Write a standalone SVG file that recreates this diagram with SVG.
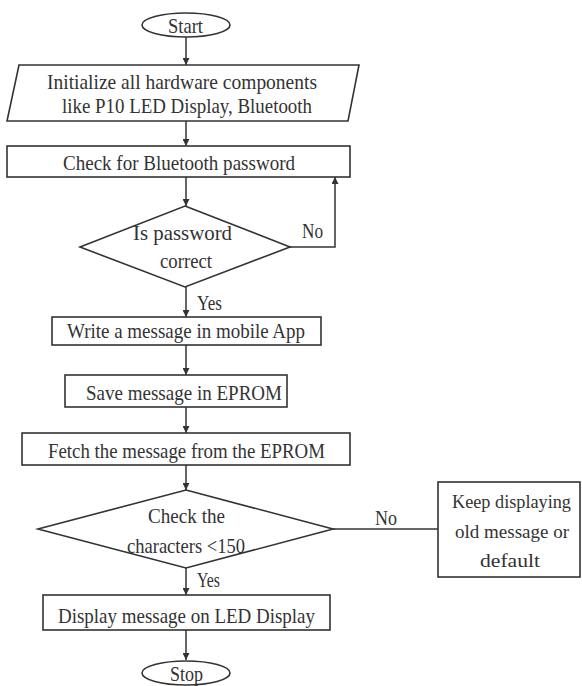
<svg xmlns="http://www.w3.org/2000/svg" width="582" height="686" viewBox="0 0 582 686">
<defs>
<marker id="ah" viewBox="0 0 10 10" refX="10" refY="5" markerWidth="7" markerHeight="7" markerUnits="userSpaceOnUse" orient="auto">
<path d="M0,0 L10,5 L0,10 z" fill="#333"/>
</marker>
<style>
.s{fill:#fff;stroke:#333;stroke-width:1.6}
.c{fill:none;stroke:#333;stroke-width:1.5}
.a{marker-end:url(#ah)}
text{font-family:"Liberation Serif","Times New Roman",serif;font-size:21px;fill:#333}
.k{font-size:19px}
</style>
</defs>
<rect width="582" height="686" fill="#fff"/>
<g id="connectors">
<line class="c a" x1="186" y1="37" x2="186" y2="65"/>
<line class="c a" x1="186" y1="121" x2="186" y2="146"/>
<line class="c a" x1="186" y1="177" x2="186" y2="206"/>
<polyline class="c a" points="290,247 335,247 335,177"/>
<text x="302" y="238" textLength="21" lengthAdjust="spacingAndGlyphs">No</text>
<line class="c a" x1="186" y1="287" x2="186" y2="317"/>
<text x="197" y="310" textLength="25" lengthAdjust="spacingAndGlyphs">Yes</text>
<line class="c a" x1="186" y1="345" x2="186" y2="375"/>
<line class="c a" x1="186" y1="407" x2="186" y2="433"/>
<line class="c a" x1="186" y1="465" x2="186" y2="490"/>
<line class="c" x1="333" y1="529" x2="438" y2="529"/>
<text x="375" y="525" textLength="22" lengthAdjust="spacingAndGlyphs">No</text>
<line class="c a" x1="186" y1="568" x2="186" y2="595"/>
<text x="197" y="587" textLength="23" lengthAdjust="spacingAndGlyphs">Yes</text>
<line class="c a" x1="186" y1="630" x2="186" y2="660"/>
</g>
<g id="start">
<ellipse class="s" cx="186" cy="25" rx="44" ry="12"/>
<text x="168" y="33" textLength="35" lengthAdjust="spacingAndGlyphs">Start</text>
</g>
<g id="init">
<polygon class="s" points="19,65 359,65 348,121 7,121"/>
<text x="47" y="89" textLength="270" lengthAdjust="spacingAndGlyphs">Initialize all hardware components</text>
<text x="62" y="113" textLength="250" lengthAdjust="spacingAndGlyphs">like P10 LED Display, Bluetooth</text>
</g>
<g id="check-password">
<rect class="s" x="7" y="146" width="343" height="31"/>
<text x="63" y="170" textLength="232" lengthAdjust="spacingAndGlyphs">Check for Bluetooth password</text>
</g>
<g id="is-password-correct">
<polygon class="s" points="185,206 290,247 185,287 80,247"/>
<text x="133" y="240" textLength="99" lengthAdjust="spacingAndGlyphs">Is password</text>
<text x="160" y="268" textLength="52" lengthAdjust="spacingAndGlyphs">correct</text>
</g>
<g id="write-message">
<rect class="s" x="52" y="317" width="269" height="28"/>
<text x="67" y="338" textLength="238" lengthAdjust="spacingAndGlyphs">Write a message in mobile App</text>
</g>
<g id="save-message">
<rect class="s" x="65" y="375" width="222" height="32"/>
<text x="86" y="400" textLength="196" lengthAdjust="spacingAndGlyphs">Save message in EPROM</text>
</g>
<g id="fetch-message">
<rect class="s" x="22" y="433" width="328" height="32"/>
<text x="48" y="458" textLength="277" lengthAdjust="spacingAndGlyphs">Fetch the message from the EPROM</text>
</g>
<g id="check-characters">
<polygon class="s" points="186,490 333,529 186,568 38,529"/>
<text x="148" y="523" textLength="77" lengthAdjust="spacingAndGlyphs">Check the</text>
<text x="127" y="553" textLength="118" lengthAdjust="spacingAndGlyphs">characters &lt;150</text>
</g>
<g id="keep-displaying">
<rect class="s" x="438" y="482" width="142" height="95"/>
<text class="k" x="452" y="508" textLength="119" lengthAdjust="spacingAndGlyphs">Keep displaying</text>
<text class="k" x="455" y="538" textLength="114" lengthAdjust="spacingAndGlyphs">old message or</text>
<text class="k" x="480" y="567" textLength="60" lengthAdjust="spacingAndGlyphs">default</text>
</g>
<g id="display-message">
<rect class="s" x="43" y="595" width="287" height="35"/>
<text x="58" y="623" textLength="257" lengthAdjust="spacingAndGlyphs">Display message on LED Display</text>
</g>
<g id="stop">
<ellipse class="s" cx="186" cy="673" rx="44" ry="12"/>
<text x="170" y="681" textLength="33" lengthAdjust="spacingAndGlyphs">Stop</text>
</g>
</svg>
